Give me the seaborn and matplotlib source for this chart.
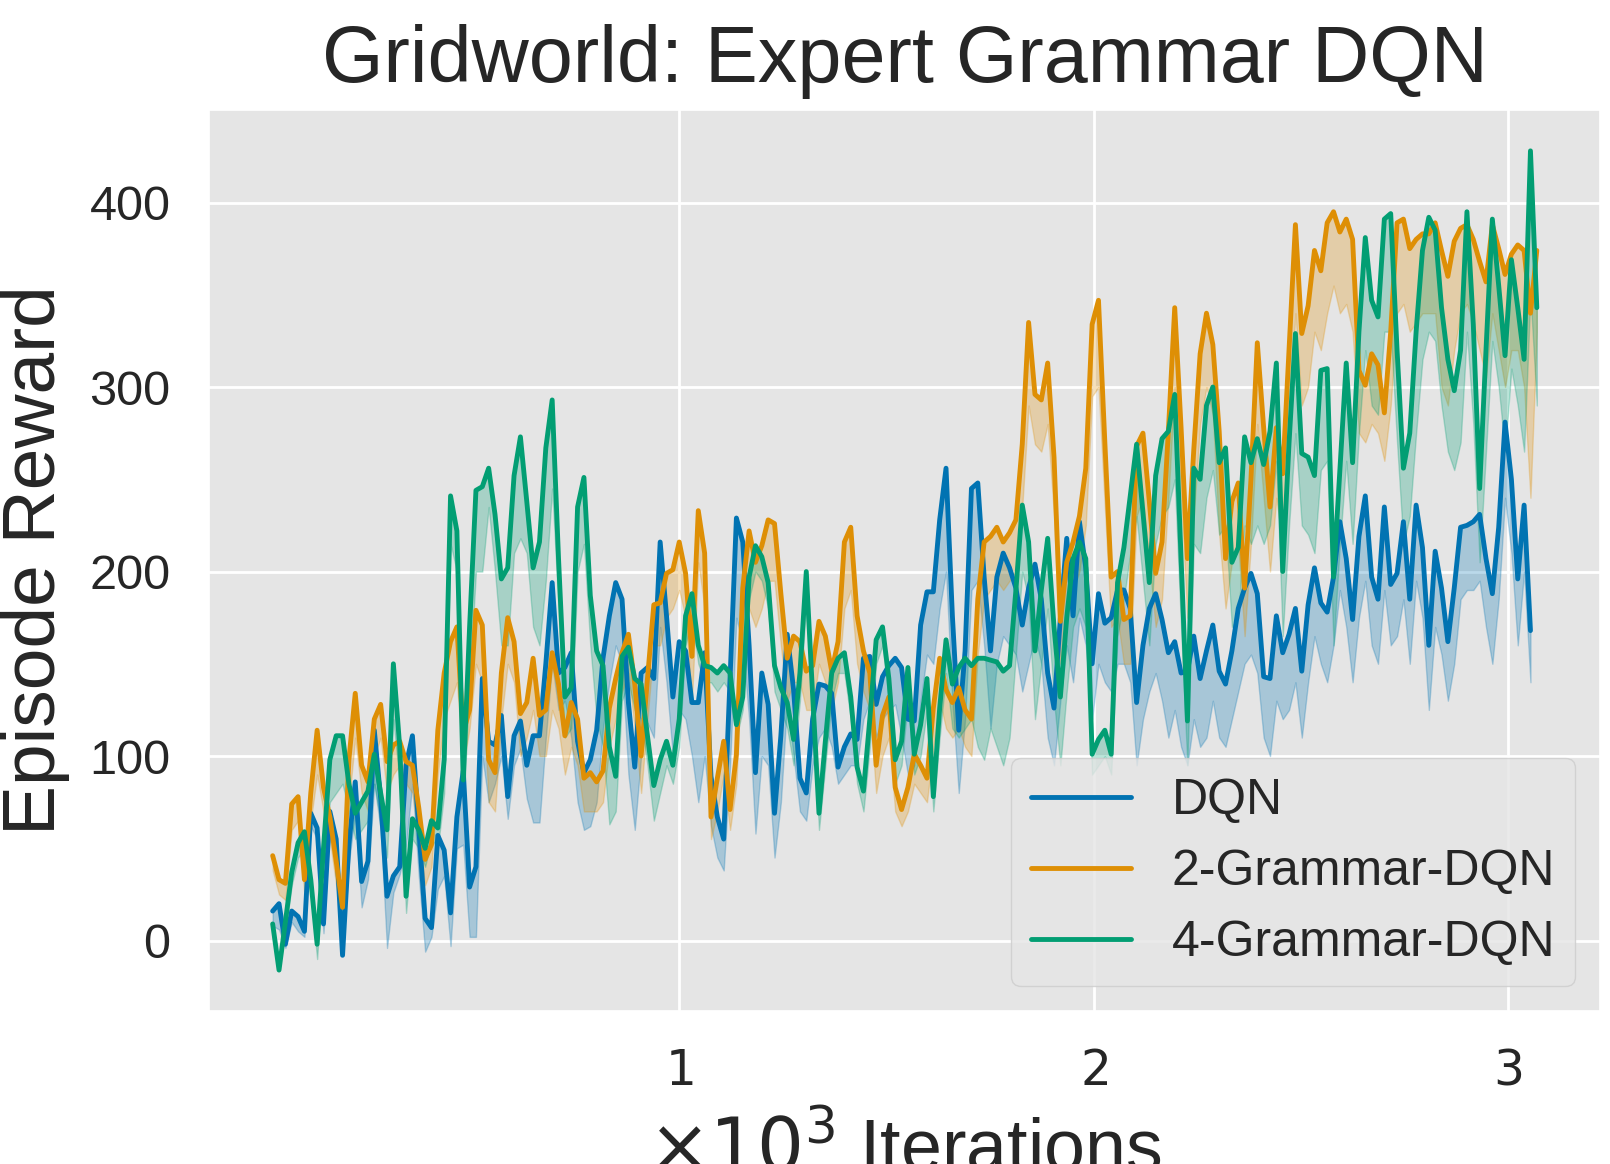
import numpy as np
import pandas as pd
import matplotlib
matplotlib.use('Agg')
import matplotlib.pyplot as plt
from matplotlib.lines import Line2D
import seaborn as sns

# x axis: evaluation points, in thousands of iterations
steps = np.arange(200)
iters_k = (19 + 15.33 * steps) / 1000

methods = ['DQN', '2-Grammar-DQN', '4-Grammar-DQN']

# best run (line) and worst run (bottom of band) per method
dqn_top = [16, 20, -2, 16, 13, 5, 69, 61, 9, 70,
           55, -8, 52, 86, 32, 43, 114, 77, 24, 35,
           40, 95, 111, 61, 12, 7, 57, 49, 15, 67,
           92, 29, 40, 142, 108, 106, 122, 78, 111, 119,
           95, 111, 111, 150, 194, 145, 148, 156, 108, 91,
           98, 114, 153, 176, 194, 185, 129, 94, 145, 148,
           142, 216, 176, 132, 162, 157, 129, 129, 156, 89,
           67, 55, 142, 229, 216, 160, 91, 145, 128, 69,
           111, 166, 136, 88, 80, 120, 139, 138, 134, 94,
           105, 112, 109, 153, 154, 128, 143, 149, 153, 148,
           120, 119, 171, 189, 189, 228, 256, 176, 114, 157,
           245, 248, 197, 157, 197, 210, 202, 191, 171, 191,
           204, 185, 145, 126, 175, 218, 176, 227, 202, 150,
           188, 172, 175, 190, 190, 180, 129, 160, 180, 188,
           174, 156, 162, 145, 146, 165, 142, 157, 171, 146,
           139, 157, 180, 191, 199, 188, 143, 142, 176, 156,
           166, 180, 146, 182, 202, 183, 178, 197, 227, 207,
           174, 219, 241, 197, 185, 235, 193, 199, 227, 185,
           236, 213, 160, 211, 191, 162, 191, 224, 225, 227,
           231, 207, 188, 224, 281, 250, 196, 236, 168]
dqn_low = [8, 6, -4, 10, 5, 2, 62, 55, 4, 62,
           45, -8, 42, 70, 18, 33, 85, 60, -4, 26,
           36, 52, 85, 35, -6, 2, 28, 35, -3, 50,
           52, 2, 2, 100, 75, 85, 100, 66, 95, 104,
           77, 64, 64, 110, 150, 125, 130, 110, 75, 60,
           62, 75, 115, 140, 160, 150, 90, 60, 100, 118,
           110, 170, 140, 100, 125, 120, 100, 75, 100, 62,
           45, 38, 95, 175, 160, 120, 58, 100, 95, 45,
           75, 130, 100, 70, 65, 95, 110, 115, 105, 85,
           90, 95, 95, 120, 130, 110, 120, 125, 128, 110,
           90, 95, 130, 155, 150, 180, 200, 130, 80, 120,
           190, 195, 160, 115, 150, 165, 160, 155, 135, 150,
           165, 150, 110, 95, 130, 160, 140, 175, 160, 120,
           150, 140, 135, 150, 150, 140, 95, 120, 135, 145,
           130, 110, 125, 105, 95, 120, 105, 110, 130, 110,
           105, 120, 135, 150, 155, 145, 110, 100, 130, 120,
           125, 140, 110, 140, 165, 150, 140, 160, 190, 170,
           140, 175, 195, 160, 150, 190, 160, 165, 185, 150,
           195, 175, 125, 170, 155, 130, 150, 185, 190, 190,
           195, 170, 150, 185, 240, 210, 160, 200, 140]

g2_top = [46, 33, 31, 74, 78, 33, 80, 114, 83, 67,
          43, 18, 98, 134, 95, 86, 120, 128, 97, 106,
          108, 97, 95, 72, 44, 52, 114, 145, 162, 170,
          113, 125, 179, 171, 98, 91, 145, 175, 162, 123,
          129, 153, 122, 125, 156, 139, 111, 129, 120, 88,
          91, 86, 92, 126, 142, 156, 166, 139, 100, 142,
          182, 183, 199, 201, 216, 199, 154, 233, 210, 67,
          88, 108, 71, 101, 191, 222, 205, 214, 228, 226,
          188, 153, 165, 162, 146, 149, 173, 165, 146, 162,
          216, 224, 176, 157, 145, 95, 122, 132, 83, 71,
          83, 101, 95, 88, 126, 153, 136, 129, 137, 125,
          120, 185, 216, 219, 224, 216, 221, 228, 269, 335,
          296, 293, 313, 262, 173, 205, 216, 230, 256, 334,
          347, 270, 197, 200, 174, 176, 268, 275, 238, 199,
          216, 276, 343, 278, 207, 266, 318, 340, 323, 276,
          207, 238, 248, 191, 250, 324, 278, 235, 278, 253,
          321, 388, 329, 344, 374, 363, 389, 395, 384, 391,
          380, 309, 301, 318, 312, 286, 330, 389, 391, 375,
          380, 383, 383, 389, 374, 360, 379, 386, 388, 380,
          368, 357, 388, 375, 361, 372, 377, 374, 340, 374]
g2_low = [38, 25, 22, 60, 65, 25, 65, 90, 70, 55,
          30, 10, 75, 110, 80, 70, 100, 110, 80, 90,
          95, 85, 80, 55, 30, 40, 90, 120, 130, 140,
          95, 115, 150, 140, 75, 70, 120, 150, 140, 100,
          110, 125, 100, 100, 125, 115, 90, 105, 95, 70,
          70, 70, 75, 105, 120, 135, 145, 115, 80, 120,
          160, 160, 175, 180, 190, 175, 130, 205, 180, 55,
          70, 90, 60, 85, 165, 180, 170, 180, 195, 195,
          160, 130, 140, 140, 125, 125, 150, 140, 125, 140,
          180, 190, 150, 135, 125, 80, 100, 110, 70, 62,
          70, 85, 80, 75, 105, 130, 115, 110, 115, 105,
          100, 155, 185, 190, 195, 190, 195, 200, 235, 290,
          269, 265, 280, 230, 150, 180, 190, 200, 225, 295,
          300, 235, 170, 175, 150, 150, 230, 240, 205, 170,
          185, 240, 300, 240, 175, 230, 280, 300, 285, 220,
          180, 205, 215, 165, 215, 280, 240, 200, 240, 215,
          280, 340, 290, 300, 330, 320, 340, 355, 340, 345,
          330, 275, 270, 280, 275, 260, 290, 340, 345, 330,
          335, 340, 340, 340, 300, 290, 320, 340, 345, 335,
          320, 305, 340, 320, 300, 320, 320, 300, 240, 330]

g4_top = [9, -16, 10, 37, 53, 59, 33, -2, 50, 98,
          111, 111, 85, 69, 75, 81, 101, 80, 60, 150,
          105, 24, 66, 60, 50, 65, 61, 98, 241, 222,
          87, 170, 244, 246, 256, 231, 196, 202, 252, 273,
          238, 202, 216, 267, 293, 207, 132, 137, 235, 251,
          187, 157, 149, 105, 89, 154, 159, 142, 139, 111,
          84, 98, 108, 95, 120, 176, 188, 160, 149, 148,
          145, 149, 145, 117, 132, 197, 214, 208, 194, 149,
          137, 129, 109, 145, 200, 133, 69, 108, 145, 153,
          156, 132, 94, 81, 120, 163, 170, 142, 98, 108,
          148, 101, 117, 142, 78, 126, 163, 139, 148, 153,
          149, 153, 153, 152, 151, 146, 149, 190, 236, 216,
          157, 190, 218, 170, 132, 175, 207, 216, 207, 101,
          109, 114, 101, 194, 213, 241, 269, 232, 194, 252,
          272, 276, 296, 207, 119, 256, 250, 290, 300, 259,
          267, 205, 213, 273, 259, 272, 258, 276, 313, 200,
          270, 329, 264, 262, 252, 309, 310, 197, 255, 313,
          259, 330, 381, 347, 338, 391, 394, 320, 256, 275,
          330, 374, 392, 385, 343, 315, 298, 320, 395, 334,
          245, 320, 391, 355, 317, 369, 343, 315, 428, 343]
g4_low = [2, -16, 5, 30, 45, 50, 25, -10, 45, 75,
          80, 85, 70, 55, 60, 65, 85, 65, 45, 120,
          85, 15, 55, 50, 40, 55, 50, 80, 215, 200,
          70, 140, 200, 200, 235, 200, 160, 160, 210, 218,
          210, 170, 160, 195, 245, 180, 110, 115, 200, 215,
          160, 120, 105, 63, 70, 130, 140, 125, 120, 95,
          65, 80, 95, 85, 105, 160, 175, 150, 140, 140,
          135, 140, 135, 110, 125, 185, 200, 195, 180, 135,
          125, 115, 95, 130, 185, 125, 60, 95, 130, 145,
          145, 120, 85, 70, 105, 150, 160, 130, 85, 95,
          130, 90, 100, 125, 70, 110, 145, 115, 110, 115,
          120, 105, 98, 115, 105, 95, 110, 155, 200, 185,
          120, 150, 180, 130, 95, 135, 170, 180, 170, 90,
          95, 100, 90, 165, 185, 210, 230, 195, 160, 215,
          230, 235, 250, 170, 95, 215, 210, 240, 255, 220,
          225, 170, 175, 225, 215, 225, 215, 225, 260, 165,
          225, 275, 225, 220, 210, 255, 260, 160, 215, 260,
          215, 275, 320, 290, 285, 330, 330, 270, 215, 230,
          275, 315, 330, 325, 290, 265, 255, 270, 330, 280,
          205, 265, 325, 300, 265, 310, 290, 265, 350, 290]

# long-form table: two runs per method, line = max, band = min..max
frames = []
for name, top, low in zip(methods, [dqn_top, g2_top, g4_top], [dqn_low, g2_low, g4_low]):
    n = len(top)
    frames.append(pd.DataFrame({'iter': iters_k[:n], 'reward': top, 'method': name, 'run': 'best'}))
    frames.append(pd.DataFrame({'iter': iters_k[:n], 'reward': low, 'method': name, 'run': 'worst'}))
df = pd.concat(frames, ignore_index=True)

sns.set_theme(style='darkgrid', rc={'axes.facecolor': '#E5E5E5',
                                    'grid.color': 'white',
                                    'grid.linewidth': 2.0})
plt.rcParams['font.family'] = ['Liberation Sans', 'DejaVu Sans']
palette = sns.color_palette('colorblind')[:3]

fig = plt.figure(figsize=(16.1, 11.64), dpi=100)
ax = fig.add_axes([0.1301, 0.1314, 0.8637, 0.7742])

sns.lineplot(data=df, x='iter', y='reward', hue='method', hue_order=methods,
             palette=palette, estimator='max', errorbar=('pi', 100),
             linewidth=3.5, err_kws={'alpha': 0.27}, legend=False, ax=ax)

ax.set_xticks([1, 2, 3])
ax.set_xticklabels(['$1$', '$2$', '$3$'])
ax.set_yticks([0, 100, 200, 300, 400])
ax.tick_params(labelsize=35, pad=28, length=0)

ax.set_title('Gridworld: Expert Grammar DQN', fontsize=57, pad=20)
ax.set_ylabel('Episode Reward', fontsize=54, labelpad=14)
ax.set_xlabel(r'$\times10^3$ Iterations', fontsize=53, labelpad=14)

handles = [Line2D([], [], color=c, lw=3.5) for c in palette]
ax.legend(handles, methods, loc='lower right', fontsize=36)

fig.savefig('out.png', dpi=100)
